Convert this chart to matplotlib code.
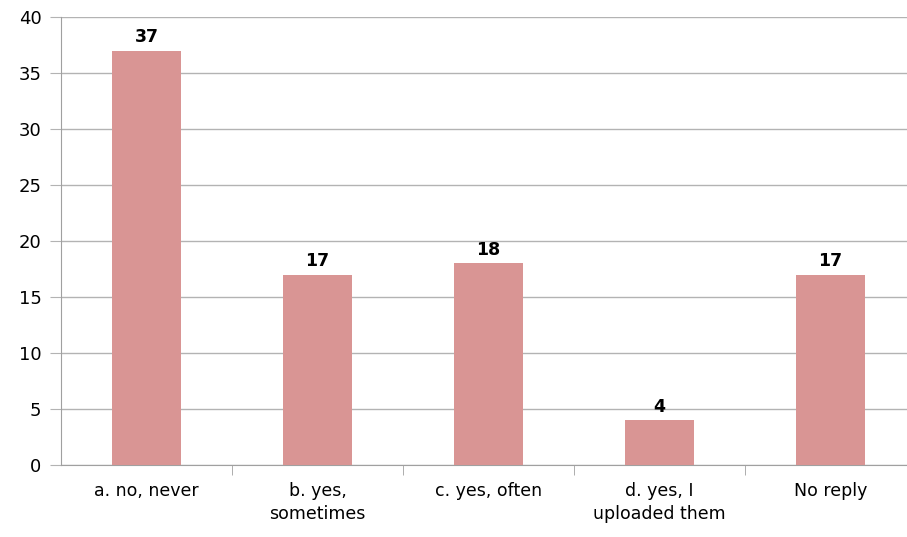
import matplotlib.pyplot as plt

categories = ["a. no, never", "b. yes,\nsometimes", "c. yes, often", "d. yes, I\nuploaded them", "No reply"]
counts = [37, 17, 18, 4, 17]

plt.rcParams['font.family'] = ['DejaVu Sans']

fig = plt.figure(figsize=(9.07, 5.37), dpi=100)
# plot area runs slightly past the right edge, as in the original
ax = fig.add_axes([61 / 907, (537 - 465) / 537, 855 / 907, 448 / 537])

x = range(len(categories))
ax.bar(x, counts, width=0.4, color='#d99594', zorder=3)

for i, v in enumerate(counts):
    ax.annotate(str(v), (i, v), xytext=(0, 3), textcoords='offset points',
                ha='center', va='bottom', fontsize=12.5, fontweight='bold')

ax.set_xlim(-0.5, len(categories) - 0.5)
ax.set_ylim(0, 40)
ax.set_yticks(range(0, 41, 5))
ax.yaxis.grid(True, color='#b3b3b3', linewidth=1, zorder=0)

ax.set_xticks(x)
ax.set_xticklabels(categories, fontsize=12.5, linespacing=1.35)
ax.set_xticks([i + 0.5 for i in range(len(categories))], minor=True)
ax.tick_params(axis='x', which='major', length=0, pad=12)
ax.tick_params(axis='x', which='minor', length=7, color='#a0a0a0')
ax.tick_params(axis='y', length=8, color='#b3b3b3', labelsize=13, pad=6)

for s in ['top', 'right']:
    ax.spines[s].set_visible(False)
ax.spines['left'].set_color('#a0a0a0')
ax.spines['bottom'].set_color('#a0a0a0')

fig.savefig('out.png', dpi=100)
